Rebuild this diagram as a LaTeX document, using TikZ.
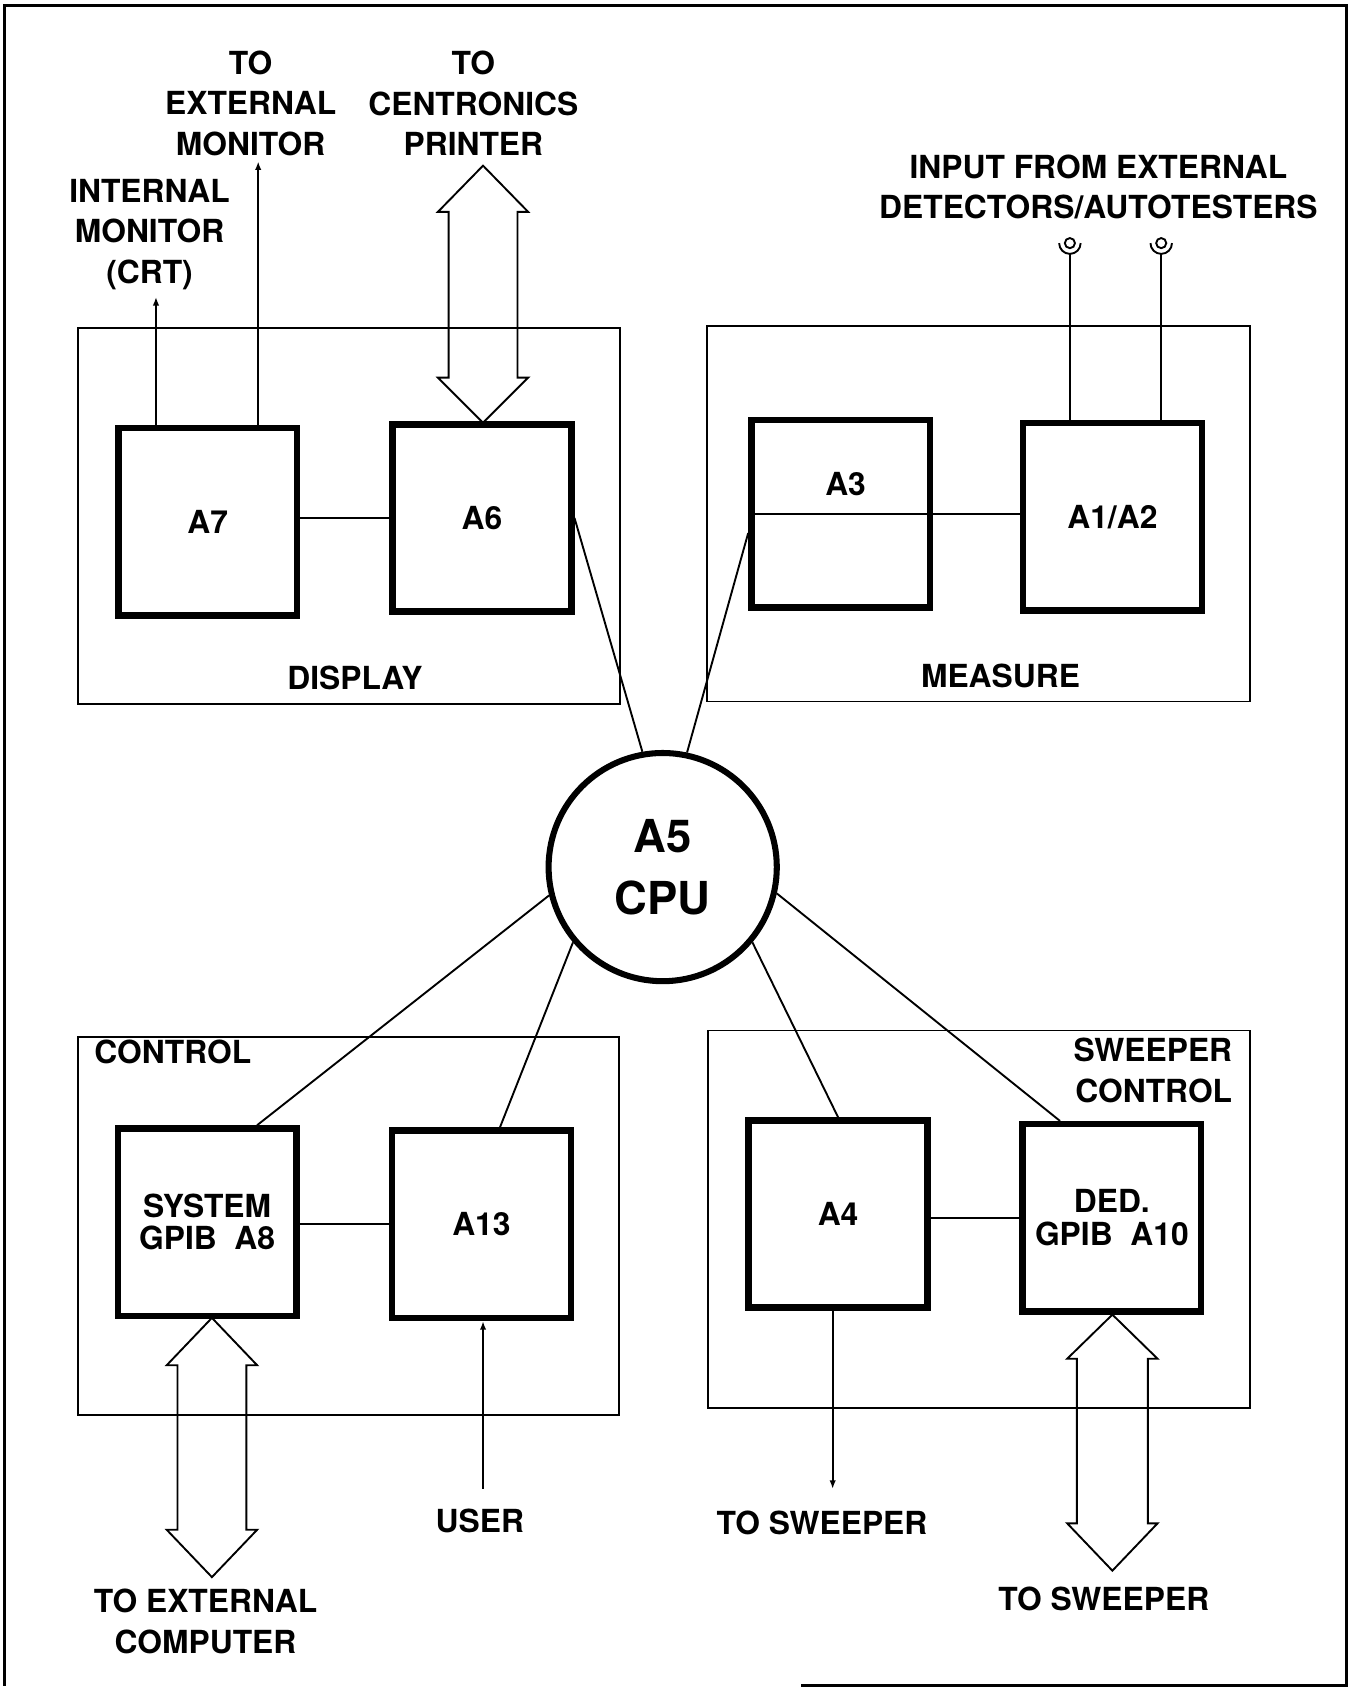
\documentclass[tikz,border=0pt]{standalone}
\usepackage{fontspec}
\setmainfont{TeX Gyre Heros}
\usetikzlibrary{arrows.meta, calc}

\begin{document}
\begin{tikzpicture}[x=0.01cm, y=-0.01cm,
    lbl/.style={font=\bfseries\fontsize{8.4}{10.7}\selectfont, inner sep=0pt, align=center},
    tight/.style={font=\bfseries\fontsize{8.4}{8.6}\selectfont},
    grp/.style={draw, line width=0.5pt, inner sep=0pt},
    unit/.style={lbl, draw, line width=1.7pt, minimum width=1.66cm, minimum height=1.74cm},
    cpubox/.style={circle, draw, line width=1.6pt, minimum size=2.12cm, inner sep=0pt, align=center,
        font=\bfseries\fontsize{12}{16.2}\selectfont},
    jack/.style={circle, draw, line width=0.5pt, minimum size=0.094cm, inner sep=0pt},
    link/.style={line width=0.5pt},
    sig/.style={line width=0.5pt, -{Latex[length=0.8mm, width=0.6mm]}},
    bus/.style={draw, line width=0.5pt, line join=miter}
  ]
  \useasboundingbox (0,0) rectangle (1256,1570);

  % Page frame
  \draw[line width=0.8pt] (745,1567) -- (1252,1567) -- (1252,5) -- (4,5) -- (4,1567);

  % Groups
  \node[grp, minimum width=5.03cm, minimum height=3.49cm] (display) at (324.5,479.5) {};
  \node[grp, minimum width=5.05cm, minimum height=3.49cm] (measure) at (909.5,477.5) {};
  \node[grp, minimum width=5.02cm, minimum height=3.51cm] (control) at (324,1139.5) {};
  \node[grp, minimum width=5.04cm, minimum height=3.51cm] (sweepctl) at (910,1133.5) {};

  \node[lbl] (displaytxt) at (330,630) {DISPLAY};
  \node[lbl] (measuretxt) at (930,628) {MEASURE};
  \node[lbl, anchor=west] (controltxt) at (87,978) {CONTROL};
  \node[lbl, anchor=east, align=right] (sweeptxt) at (1146,995) {SWEEPER\\CONTROL};

  % Assemblies
  \node[unit] (a7) at (193,485) {A7};
  \node[unit] (a6) at (448,481.5) {A6};
  \node[unit] (a3) at (781.5,477.5) {};
  \node[lbl] (a3txt) at (786,450) {A3};
  \node[unit] (a12) at (1034,480.5) {A1/A2};
  \node[unit, tight] (a8) at (192.5,1136) {SYSTEM\\GPIB~~A8};
  \node[unit] (a13) at (447.5,1138) {A13};
  \node[unit] (a4) at (779,1128.5) {A4};
  \node[unit, tight] (a10) at (1033.5,1132) {DED.\\GPIB~~A10};

  \node[cpubox] (cpu) at (616,806) {A5\\CPU};

  % Outside labels
  \node[lbl] (extmon) at (233,96) {TO\\EXTERNAL\\MONITOR};
  \node[lbl] (crt) at (139,218) {INTERNAL\\MONITOR\\(CRT)};
  \node[lbl] (printer) at (440,96) {TO\\CENTRONICS\\PRINTER};
  \node[lbl] (input) at (1021,174) {INPUT FROM EXTERNAL\\DETECTORS/AUTOTESTERS};
  \node[lbl] (user) at (446,1414) {USER};
  \node[lbl] (sweeper1) at (764,1416) {TO SWEEPER};
  \node[lbl] (extcomp) at (191,1507) {TO EXTERNAL\\COMPUTER};
  \node[lbl] (sweeper2) at (1026,1486) {TO SWEEPER};

  % Free ends
  \coordinate (crtend) at (145,276);
  \coordinate (extmonend) at (240,150);
  \coordinate (userend) at (449,1384);
  \coordinate (sweepend) at (774,1384);

  % Signal arrows
  \draw[sig] (a7.north -| crtend) -- (crtend);
  \draw[sig] (a7.north -| extmonend) -- (extmonend);
  \draw[sig] (userend) -- (userend |- a13.south);
  \draw[sig] (a4.south -| sweepend) -- (sweepend);

  % Links inside groups
  \draw[link] (a6.west -| a7.east) -- (a6.west);
  \draw[link] (a3.west) -- (a3.west -| a12.west);
  \draw[link] (a13.west -| a8.east) -- (a13.west);
  \draw[link] (a10.west -| a4.east) -- (a10.west);

  % Links to the CPU
  \draw[link] (a6.east) -- (cpu.100);
  \draw[link] ($(a3.north west)!0.6!(a3.south west)$) -- (cpu.78);
  \draw[link] ($(a8.north west)!0.77!(a8.north east)$) -- (cpu.194);
  \draw[link] ($(a13.north west)!0.6!(a13.north east)$) -- (cpu.220);
  \draw[link] (a4.north) -- (cpu.320);
  \draw[link] ($(a10.north west)!0.22!(a10.north east)$) -- (cpu.347);

  % Detector inputs
  \node[jack] (jack1) at (994.5,226) {};
  \node[jack] (jack2) at (1079.4,226) {};
  \draw[link] (jack1.center) ++(-10,0) arc[start angle=180, end angle=0, radius=10];
  \draw[link] (jack2.center) ++(-10,0) arc[start angle=180, end angle=0, radius=10];
  \draw[link] (jack1.center) ++(0,10) -- (jack1 |- a12.north);
  \draw[link] (jack2.center) ++(0,10) -- (jack2 |- a12.north);

  % Bus arrows
  \draw[bus] (449,154) -- (491,197) -- (481,197) -- (481,351) -- (491,351) -- (449,393)
    -- (407,351) -- (417,351) -- (417,197) -- (407,197) -- cycle;
  \draw[bus] (197,1225) -- (239,1269) -- (229,1269) -- (229,1422) -- (239,1422) -- (197,1466)
    -- (155,1422) -- (165,1422) -- (165,1269) -- (155,1269) -- cycle;
  \draw[bus] (1034,1222) -- (1076,1263) -- (1067,1263) -- (1067,1416) -- (1076,1416) -- (1034,1460)
    -- (992,1416) -- (1001,1416) -- (1001,1263) -- (992,1263) -- cycle;
\end{tikzpicture}
\end{document}
